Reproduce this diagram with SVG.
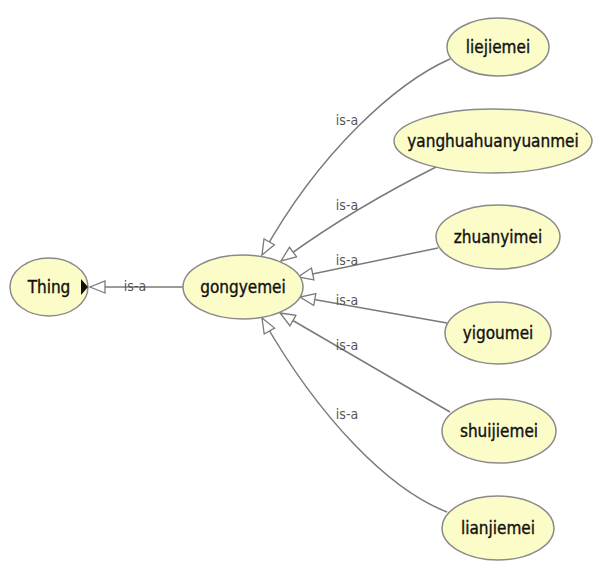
<svg xmlns="http://www.w3.org/2000/svg" width="594" height="561" viewBox="0 0 594 561">
<style>
.node ellipse{fill:#fcfcc8;stroke:#8a8a8a;stroke-width:1.5}
.node text{font-family:"DejaVu Sans Condensed","Liberation Sans Narrow","DejaVu Sans",sans-serif;font-stretch:condensed;font-size:17px;fill:#111;stroke:#111;stroke-width:0.35;text-anchor:middle}
.edge{fill:none;stroke:#7a7a7a;stroke-width:1.5;marker-end:url(#tri)}
.lbl{font-family:"DejaVu Sans Condensed","Liberation Sans Narrow","DejaVu Sans",sans-serif;font-stretch:condensed;font-size:14px;fill:#555;text-anchor:middle}
</style>
<defs>
<marker id="tri" viewBox="0 0 17 14" refX="16" refY="7" markerWidth="17" markerHeight="14" markerUnits="userSpaceOnUse" orient="auto">
<path d="M1,1 L16,7 L1,13 Z" fill="#fff" stroke="#7a7a7a" stroke-width="1.3"/>
</marker>
</defs>
<rect width="594" height="561" fill="#fff"/>
<g id="connectors">
<path class="edge" d="M183,287 L90,287"/>
<path class="edge" d="M450,59 C398,82 320,150 262,255"/>
<path class="edge" d="M440,165 Q350,210 281,261"/>
<path class="edge" d="M438,248 L298,277"/>
<path class="edge" d="M447,323 L300,297"/>
<path class="edge" d="M450,412 L280,313"/>
<path class="edge" d="M447,512 C390,490 320,420 262,318"/>
<text class="lbl" x="135" y="291">is-a</text>
<text class="lbl" x="347" y="125">is-a</text>
<text class="lbl" x="347" y="210">is-a</text>
<text class="lbl" x="347" y="265">is-a</text>
<text class="lbl" x="347" y="305">is-a</text>
<text class="lbl" x="347" y="350">is-a</text>
<text class="lbl" x="347" y="419">is-a</text>
</g>
<g id="Thing" class="node">
<ellipse cx="49" cy="287" rx="39" ry="29"/>
<text x="49" y="293">Thing</text>
<path d="M81,279 L88,287 L81,295 Z" fill="#111"/>
</g>
<g id="gongyemei" class="node">
<ellipse cx="243" cy="287" rx="60" ry="32"/>
<text x="243" y="293">gongyemei</text>
</g>
<g id="liejiemei" class="node">
<ellipse cx="498" cy="47" rx="51" ry="29"/>
<text x="498" y="53">liejiemei</text>
</g>
<g id="yanghuahuanyuanmei" class="node">
<ellipse cx="493" cy="141" rx="99" ry="32"/>
<text x="493" y="147">yanghuahuanyuanmei</text>
</g>
<g id="zhuanyimei" class="node">
<ellipse cx="498" cy="237" rx="62" ry="32"/>
<text x="498" y="243">zhuanyimei</text>
</g>
<g id="yigoumei" class="node">
<ellipse cx="498" cy="333" rx="53" ry="31"/>
<text x="498" y="339">yigoumei</text>
</g>
<g id="shuijiemei" class="node">
<ellipse cx="499" cy="431" rx="57" ry="32"/>
<text x="499" y="437">shuijiemei</text>
</g>
<g id="lianjiemei" class="node">
<ellipse cx="498" cy="528" rx="56" ry="32"/>
<text x="498" y="534">lianjiemei</text>
</g>
</svg>
